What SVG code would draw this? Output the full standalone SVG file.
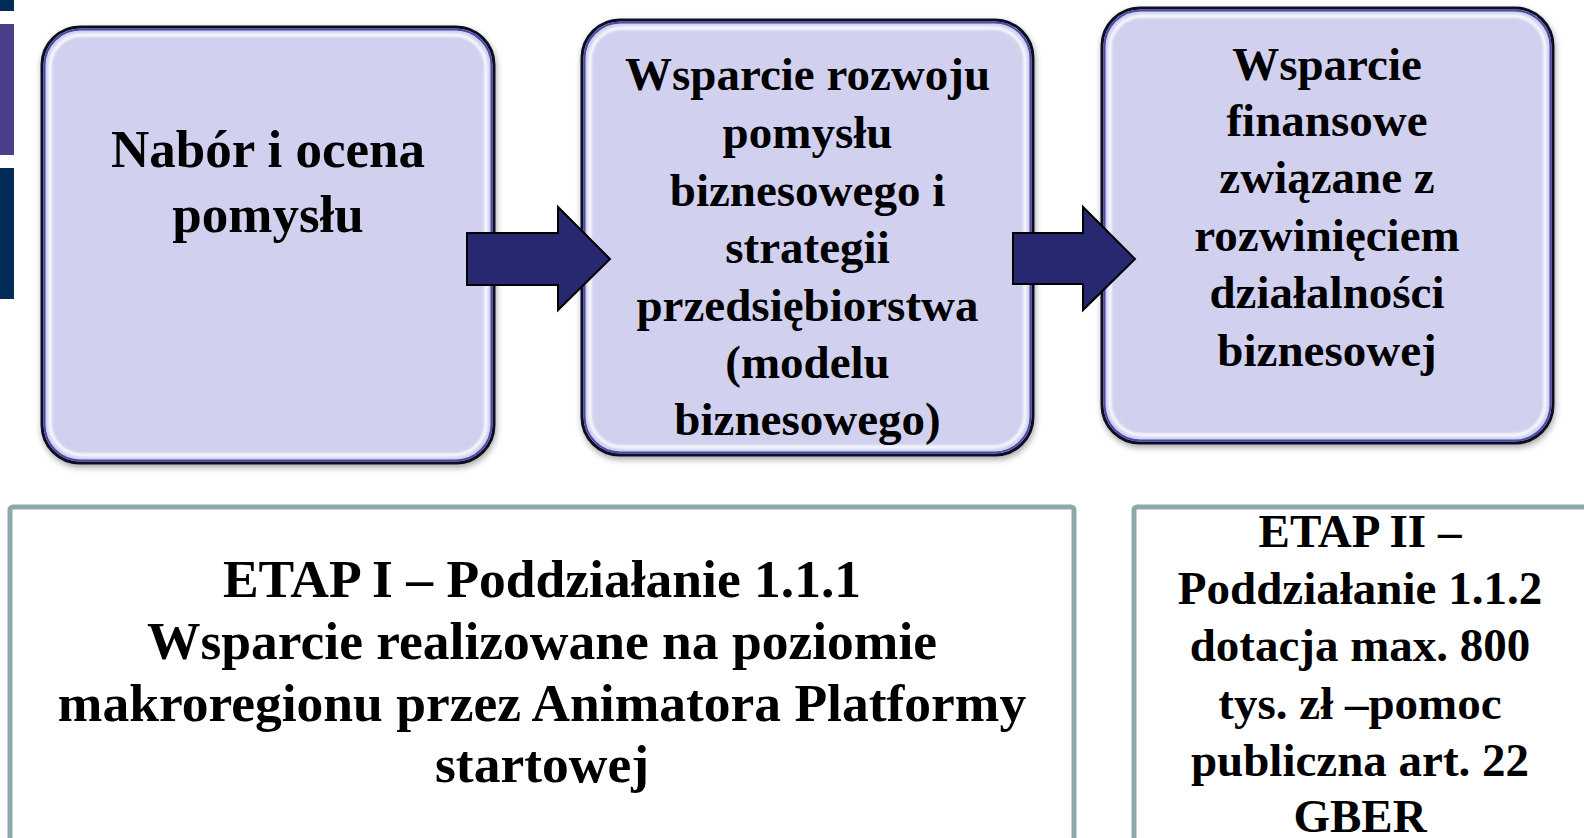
<svg xmlns="http://www.w3.org/2000/svg" width="1584" height="838" viewBox="0 0 1584 838">
<defs>
<filter id="sh" x="-10%" y="-10%" width="120%" height="125%">
<feDropShadow dx="1" dy="3" stdDeviation="3" flood-color="#000" flood-opacity="0.35"/>
</filter>
<filter id="bl" x="-5%" y="-5%" width="110%" height="110%">
<feGaussianBlur stdDeviation="1.2"/>
</filter>
</defs>
<style>
.box{fill:#d1d1ef;stroke:#111122;stroke-width:3}
.inner{fill:none;stroke:#4a4aa8;stroke-width:2}
.hl{fill:none;stroke:#ffffff;stroke-width:3.5;stroke-opacity:0.85}
.t{font-family:"Liberation Serif","Times New Roman",serif;font-weight:bold;fill:#000;text-anchor:middle}
.arrow{fill:#282870;stroke:#000;stroke-width:2;stroke-linejoin:miter}
.etap{fill:#fff;stroke:#8fa7aa;stroke-width:5}
</style>
<rect width="1584" height="838" fill="#fff"/>
<g id="sidebars">
<rect x="0" y="0" width="14" height="11" fill="#012b59"/>
<rect x="0" y="24" width="14" height="131" fill="#4b3f8c"/>
<rect x="0" y="168" width="14" height="131" fill="#012b59"/>
</g>
<g id="node1">
<rect class="box" x="42" y="27" width="452" height="436" rx="38" filter="url(#sh)"/>
<rect class="inner" x="44.5" y="29.5" width="447" height="431" rx="36"/>
<rect class="hl" x="50" y="35" width="436" height="420" rx="32" filter="url(#bl)"/>
<text class="t" font-size="53" x="268" y="167">Nabór i ocena</text>
<text class="t" font-size="53" x="268" y="232">pomysłu</text>
</g>
<g id="node2">
<rect class="box" x="582" y="20" width="451" height="435" rx="38" filter="url(#sh)"/>
<rect class="inner" x="584.5" y="22.5" width="446" height="430" rx="36"/>
<rect class="hl" x="590" y="28" width="435" height="419" rx="32" filter="url(#bl)"/>
<g class="t" font-size="47">
<text class="t" x="807.5" y="90">Wsparcie rozwoju</text>
<text class="t" x="807.5" y="148">pomysłu</text>
<text class="t" x="807.5" y="206">biznesowego i</text>
<text class="t" x="807.5" y="263">strategii</text>
<text class="t" x="807.5" y="321">przedsiębiorstwa</text>
<text class="t" x="807.5" y="378">(modelu</text>
<text class="t" x="807.5" y="435">biznesowego)</text>
</g>
</g>
<g id="node3">
<rect class="box" x="1102" y="8" width="451" height="435" rx="38" filter="url(#sh)"/>
<rect class="inner" x="1104.5" y="10.5" width="446" height="430" rx="36"/>
<rect class="hl" x="1110" y="16" width="435" height="419" rx="32" filter="url(#bl)"/>
<g class="t" font-size="47">
<text class="t" x="1327" y="80">Wsparcie</text>
<text class="t" x="1327" y="136">finansowe</text>
<text class="t" x="1327" y="193">związane z</text>
<text class="t" x="1327" y="251">rozwinięciem</text>
<text class="t" x="1327" y="308">działalności</text>
<text class="t" x="1327" y="366">biznesowej</text>
</g>
</g>
<g id="connectors">
<polygon class="arrow" points="467,233 558,233 558,207 610,259 558,310 558,285 467,285"/>
<polygon class="arrow" points="1013,233 1083,233 1083,207 1135,259 1083,310 1083,284 1013,284"/>
</g>
<g id="etap1">
<rect class="etap" x="10" y="507" width="1064" height="345" rx="3"/>
<g class="t" font-size="53.5">
<text class="t" x="542" y="597">ETAP I – Poddziałanie 1.1.1</text>
<text class="t" x="542" y="659">Wsparcie realizowane na poziomie</text>
<text class="t" x="542" y="721">makroregionu przez Animatora Platformy</text>
<text class="t" x="542" y="782">startowej</text>
</g>
</g>
<g id="etap2">
<rect class="etap" x="1134" y="507" width="460" height="345" rx="3"/>
<g class="t" font-size="47">
<text class="t" x="1360" y="547">ETAP II –</text>
<text class="t" x="1360" y="604">Poddziałanie 1.1.2</text>
<text class="t" x="1360" y="661">dotacja max. 800</text>
<text class="t" x="1360" y="719">tys. zł –pomoc</text>
<text class="t" x="1360" y="776">publiczna art. 22</text>
<text class="t" x="1360" y="832">GBER</text>
</g>
</g>
</svg>
